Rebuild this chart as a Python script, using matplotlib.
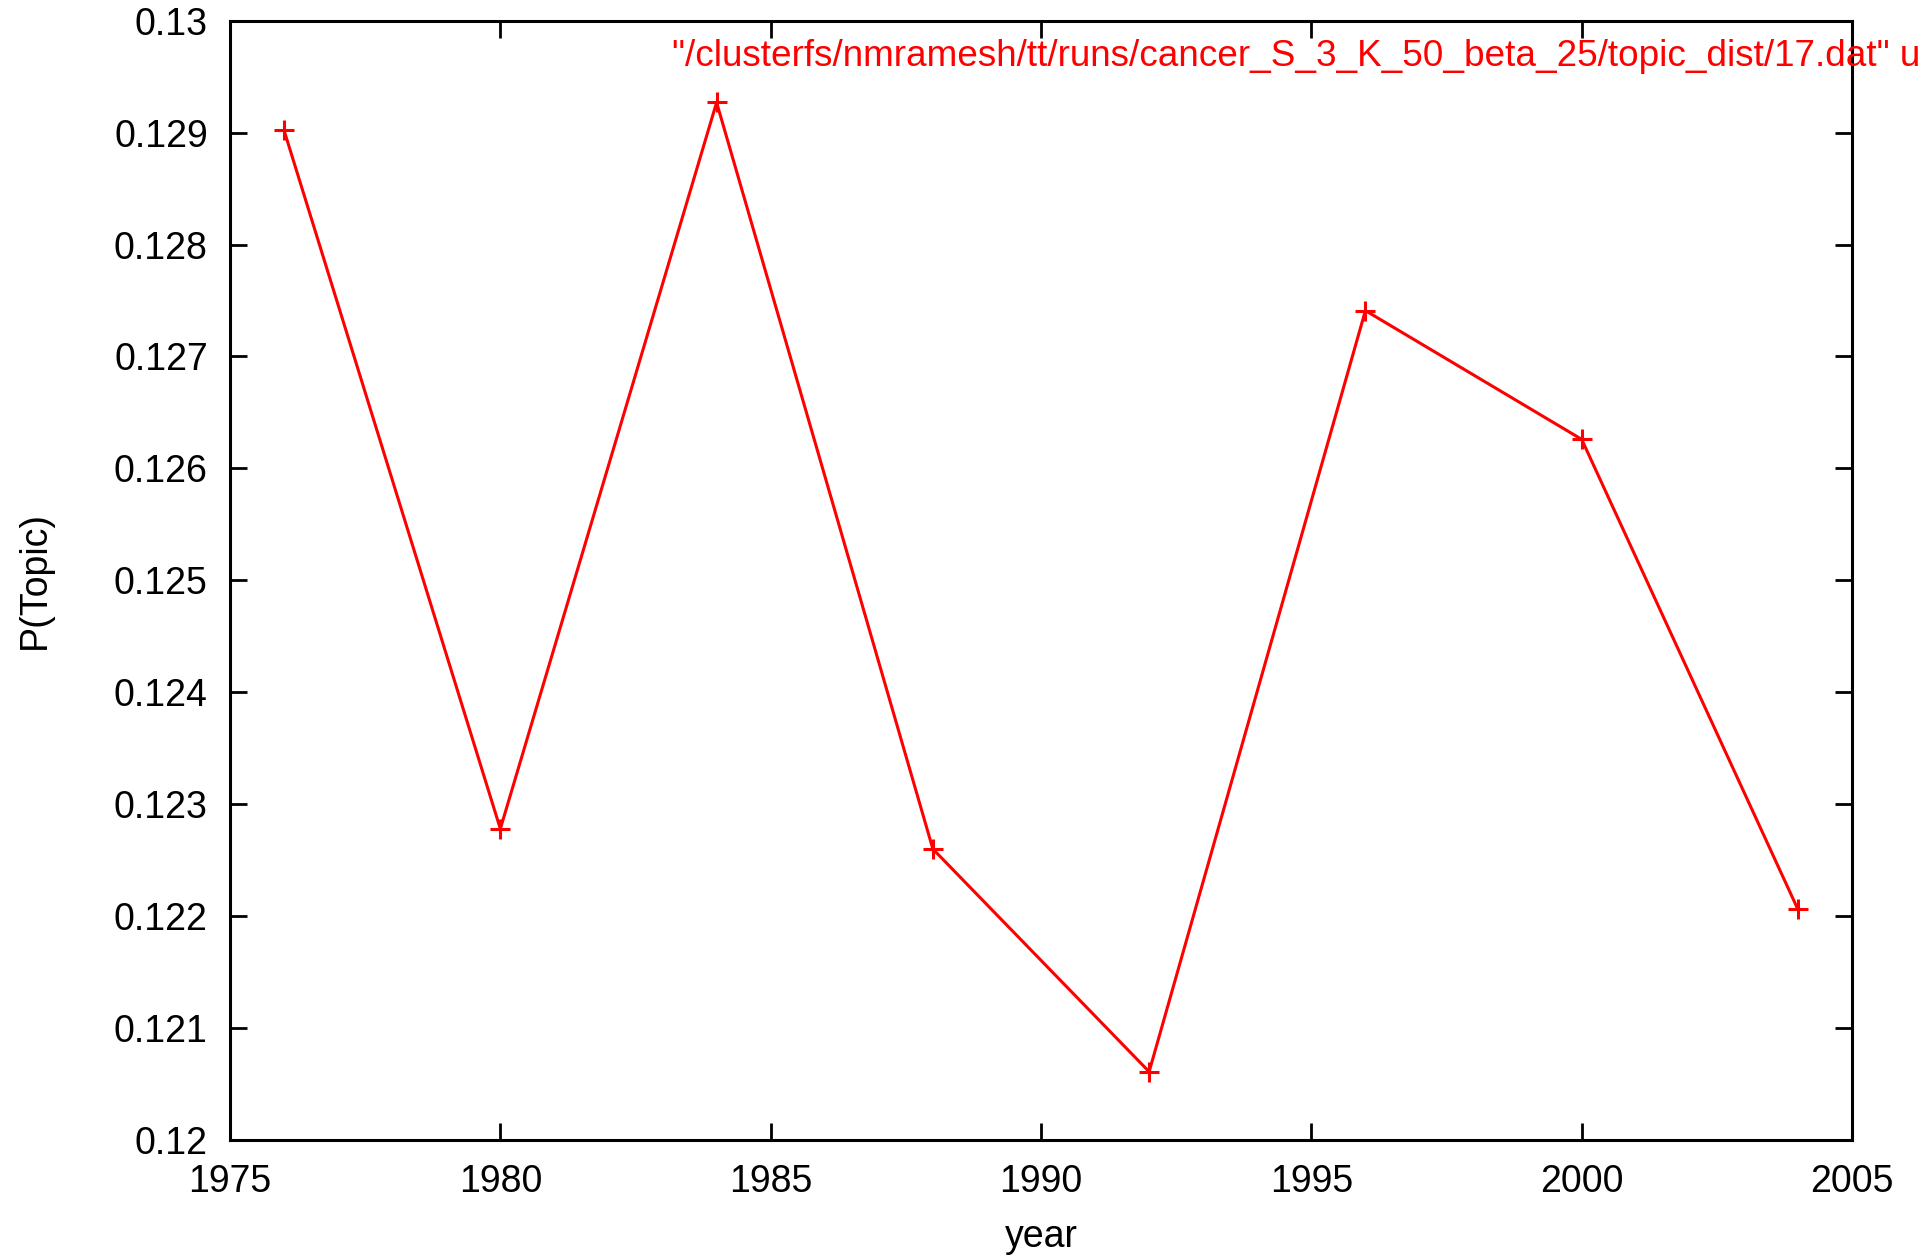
import matplotlib
matplotlib.use('Agg')
import matplotlib.pyplot as plt

years = [1976, 1980, 1984, 1988, 1992, 1996, 2000, 2004]
p_topic = [0.12902, 0.12278, 0.12927, 0.12260, 0.12061, 0.12741, 0.12626, 0.12206]
x_ticks = [1975, 1980, 1985, 1990, 1995, 2000, 2005]
y_ticks = [0.12, 0.121, 0.122, 0.123, 0.124, 0.125, 0.126, 0.127, 0.128, 0.129, 0.13]
y_tick_labels = ["0.12", "0.121", "0.122", "0.123", "0.124", "0.125",
                 "0.126", "0.127", "0.128", "0.129", "0.13"]
# gnuplot key text, cut off by the right edge just like in the original
key_label = '"/clusterfs/nmramesh/tt/runs/cancer_S_3_K_50_beta_25/topic_dist/17.dat" u 1:2'

plt.rcParams['font.family'] = ['Liberation Sans', 'DejaVu Sans']

fig = plt.figure(figsize=(19.27, 12.57), dpi=100)
ax = fig.add_axes([230 / 1927, 1 - 1140 / 1257, 1622 / 1927, 1119.3 / 1257])

ax.plot(years, p_topic, color='#ff0000', linewidth=2.2, marker='+',
        markersize=14, markeredgewidth=2.2)

ax.set_xlim(1975, 2005)
ax.set_ylim(0.12, 0.13)
ax.set_xticks(x_ticks)
ax.set_yticks(y_ticks)
ax.set_yticklabels(y_tick_labels)

for s in ax.spines.values():
    s.set_linewidth(2.2)
ax.tick_params(direction='in', length=12, width=2, labelsize=27,
               top=True, right=True, pad=16)
ax.tick_params(axis='x', pad=17)

ax.set_xlabel("year", fontsize=27, labelpad=14)
ax.set_ylabel("P(Topic)", fontsize=27, labelpad=44)

fig.text(672 / 1927, 1 - 56 / 1257, key_label, color='#ff0000', fontsize=26.6,
         ha='left', va='center')

fig.savefig("out.png", dpi=100)
plt.close()
